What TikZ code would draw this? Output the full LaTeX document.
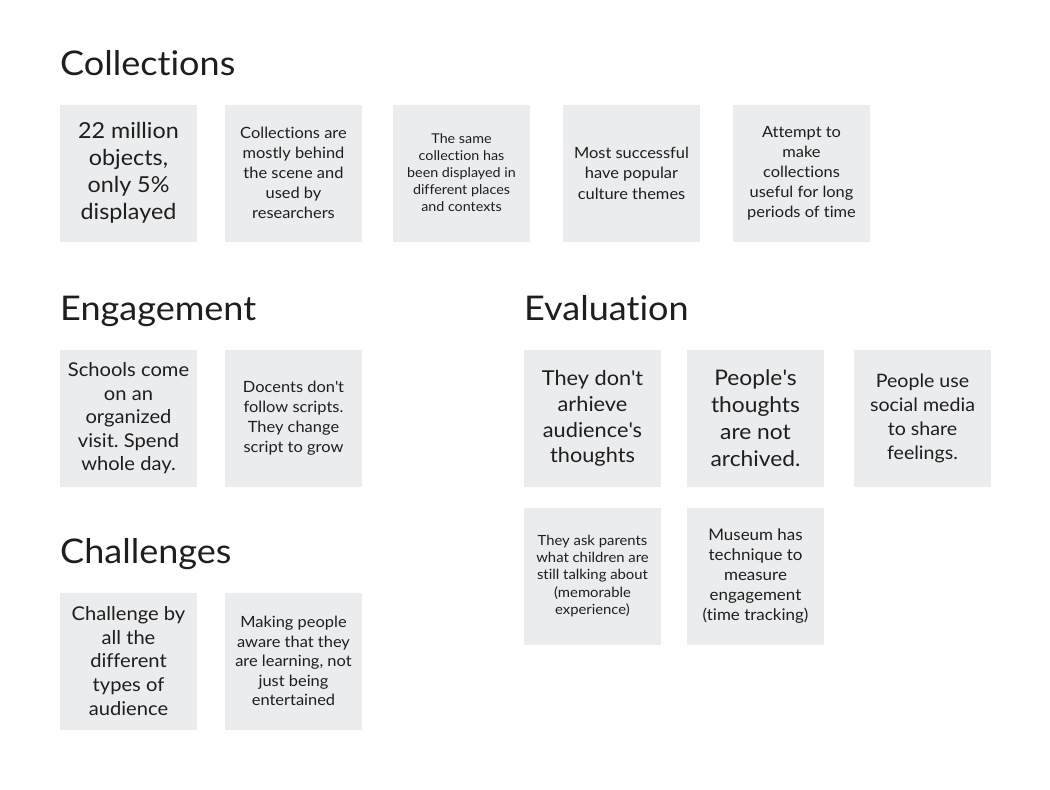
\documentclass[tikz,border=0pt]{standalone}
\usepackage{fontspec}
\setmainfont{Lato}[Ligatures={NoCommon,TeX}, FakeStretch=1.06]
\definecolor{boxgray}{HTML}{EBECEE}
\definecolor{textc}{HTML}{1E1E1E}
\newcommand{\fs}[2]{\fontsize{#1pt}{#2pt}\selectfont}
\newcommand{\ap}{\textquotesingle}
\frenchspacing
\begin{document}
\begin{tikzpicture}[x=1pt,y=-1pt,
  card/.style={fill=boxgray, minimum width=137pt, minimum height=137pt, inner sep=0pt, align=center, text=textc},
  heading/.style={anchor=base west, inner sep=0pt, text=textc, font=\fs{34}{40}}]
\useasboundingbox (0,0) rectangle (1050,790);
% headings
\node[heading] (hcol) at (60,75) {Collections};
\node[heading] (heng) at (60,320) {Engagement};
\node[heading] (heva) at (524,320) {Evaluation};
\node[heading] (hcha) at (60,563) {Challenges};
% Collections
\node[card, font=\fs{22}{27}] (c1) at (128.5,173) {22 million\\objects,\\only 5\%\\displayed};
\node[card, font=\fs{15.5}{20}] (c2) at (293.5,173) {Collections are\\mostly behind\\the scene and\\used by\\researchers};
\node[card, font=\fs{13.5}{17}] (c3) at (461.5,173) {The same\\collection has\\been displayed in\\different places\\and contexts};
\node[card, font=\fs{15.5}{20.5}] (c4) at (631.5,173) {Most successful\\have popular\\culture themes};
\node[card, font=\fs{15.5}{20}] (c5) at (801.5,173) {Attempt to\\make\\collections\\useful for long\\periods of time};
% Engagement
\node[card, font=\fs{19}{23.5}] (e1) at (128.5,418.5) {Schools come\\on an\\organized\\visit. Spend\\whole day.};
\node[card, font=\fs{15.5}{20}] (e2) at (293.5,418.5) {Docents don\ap t\\follow scripts.\\They change\\script to grow};
% Evaluation
\node[card, font=\fs{20.5}{25.7}] (v1) at (592.5,418.5) {They don\ap t\\arhieve\\audience\ap s\\thoughts};
\node[card, font=\fs{21.5}{27}] (v2) at (755.5,418.5) {People\ap s\\thoughts\\are not\\archived.};
\node[card, font=\fs{18.5}{24}] (v3) at (922.5,418.5) {People use\\social media\\to share\\feelings.};
\node[card, font=\fs{14}{17.3}] (v4) at (592.5,576) {They ask parents\\what children are\\still talking about\\(memorable\\experience)};
\node[card, font=\fs{16}{20}] (v5) at (755.5,576) {Museum has\\technique to\\measure\\engagement\\(time tracking)};
% Challenges
\node[card, font=\fs{19}{23.75}] (h1) at (128.5,661) {Challenge by\\all the\\different\\types of\\audience};
\node[card, font=\fs{15.5}{19.5}] (h2) at (293.5,661) {Making people\\aware that they\\are learning, not\\just being\\entertained};
\end{tikzpicture}
\end{document}
